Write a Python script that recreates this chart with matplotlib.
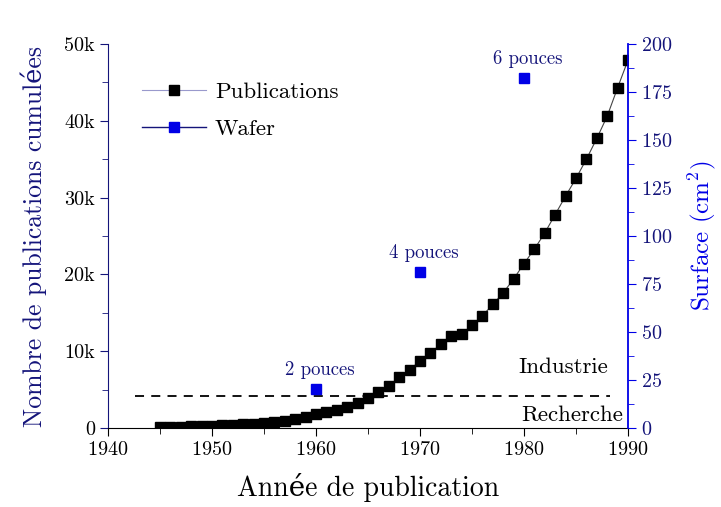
import matplotlib
matplotlib.use("Agg")
import matplotlib.pyplot as plt
from matplotlib.lines import Line2D
from matplotlib.ticker import MultipleLocator, FuncFormatter

plt.rcParams['font.family'] = ['cmr10', 'DejaVu Serif']
plt.rcParams['mathtext.fontset'] = 'cm'
plt.rcParams['axes.formatter.use_mathtext'] = True

# cumulative publications (thousands), one per year
years = list(range(1945, 1991))
publications = [0.13, 0.13, 0.17, 0.22, 0.26, 0.30, 0.35, 0.40, 0.48, 0.52,
                 0.60, 0.74, 0.95, 1.2, 1.47, 1.78, 2.04, 2.39, 2.73, 3.26,
                 3.95, 4.7, 5.5, 6.6, 7.6, 8.7, 9.8, 10.9, 12.0, 12.2,
                 13.4, 14.6, 16.1, 17.6, 19.4, 21.4, 23.3, 25.4, 27.8, 30.2,
                 32.5, 35.0, 37.7, 40.6, 44.3, 47.9]

# wafer surface (cm2)
wafer_years = [1960, 1970, 1980]
wafer_surface = [20.3, 81.1, 182.4]
wafer_labels = ["2 pouces", "4 pouces", "6 pouces"]

threshold = 4.17  # thousands, industrie / recherche limit
threshold_span = [1942.6, 1988.3]

blue = '#0000e6'
navy = '#14147a'

fig = plt.figure(figsize=(7.21, 5.07), dpi=100)
ax = fig.add_axes([0.1498, 0.1558, 0.7212, 0.7574])
ax2 = ax.twinx()

ax.plot(years, publications, color='#444444', lw=0.8, marker='s', ms=6.5,
        mfc='black', mec='black', zorder=3)
ax.plot(threshold_span, [threshold, threshold], color='black', ls=(0, (5, 4)), lw=1.3)
ax.text(1988.1, 7.9, "Industrie", ha='right', va='center', fontsize=16.5)
ax.text(1989.5, 1.7, "Recherche", ha='right', va='center', fontsize=16.5)

ax2.plot(wafer_years, wafer_surface, ls='none', marker='s', ms=6.5, color=blue)
for x, y, lab in zip(wafer_years, wafer_surface, wafer_labels):
    ax2.text(x + 0.4, y + 10, lab, ha='center', va='center', fontsize=13.5, color=navy)

ax.set_xlim(1940, 1990)
ax.set_ylim(0, 50)
ax2.set_ylim(0, 200)

ax.xaxis.set_major_locator(MultipleLocator(10))
ax.xaxis.set_minor_locator(MultipleLocator(5))
ax.yaxis.set_major_locator(MultipleLocator(10))
ax.yaxis.set_minor_locator(MultipleLocator(5))
ax.yaxis.set_major_formatter(FuncFormatter(lambda v, p: "0" if v == 0 else "%dk" % v))
ax2.yaxis.set_major_locator(MultipleLocator(25))
ax2.yaxis.set_minor_locator(MultipleLocator(12.5))

for a in (ax, ax2):
    a.spines['top'].set_visible(False)
ax.spines['left'].set_color(navy)
ax.spines['bottom'].set_color('black')
ax.spines['right'].set_visible(False)
ax2.spines['left'].set_visible(False)
ax2.spines['bottom'].set_visible(False)
ax2.spines['right'].set_color(blue)
ax2.spines['right'].set_linewidth(1.3)

ax.tick_params(which='major', direction='out', length=6, labelsize=14.5)
ax.tick_params(which='minor', direction='out', length=4)
ax.tick_params(axis='y', which='both', color=navy)
ax2.tick_params(which='major', direction='out', length=6, labelsize=14.5,
                color=blue, labelcolor=navy)
ax2.tick_params(which='minor', direction='out', length=4, color=blue)

ax.set_xlabel("Année de publication", fontsize=20, labelpad=10)
ax.set_ylabel("Nombre de publications cumulées", fontsize=18.5, color=navy, labelpad=12)
ax2.set_ylabel("Surface (cm$^2$)", fontsize=18, color=blue, labelpad=10)

handles = [Line2D([], [], color='#9999cc', lw=0.8, marker='s', ms=6.5, mfc='black', mec='black'),
           Line2D([], [], color=navy, lw=1.0, marker='s', ms=6.5, mfc=blue, mec=blue)]
ax.legend(handles, ["Publications", "Wafer"], loc='upper left', frameon=False,
          bbox_to_anchor=(0.025, 0.955), fontsize=16.5, labelspacing=0.75,
          handlelength=2.8, handletextpad=0.4)

fig.savefig("out.png", dpi=100)
